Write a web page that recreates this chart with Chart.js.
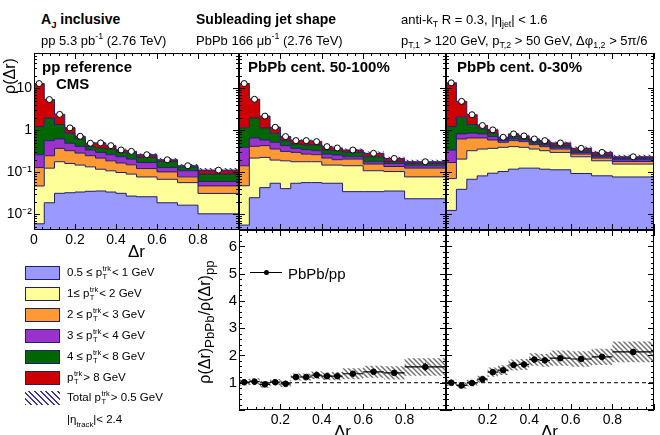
<!DOCTYPE html>
<html>
<head>
<meta charset="utf-8">
<script src="https://cdn.jsdelivr.net/npm/chart.js@4.4.1/dist/chart.umd.min.js"></script>
<style>
  body { margin: 0; background: #fff; }
  #wrap { position: relative; width: 660px; height: 435px; overflow: hidden; font-family: "Liberation Sans", Arial, sans-serif; color: #000; }
  canvas { position: absolute; }
  .t { position: absolute; white-space: nowrap; line-height: 1; transform: translateY(-50%); }
  .b { font-weight: bold; }
  .t sub, .t sup { font-size: 0.68em; line-height: 0; }
  .rot { position: absolute; white-space: nowrap; line-height: 1; transform: translate(-50%, -50%) rotate(-90deg); }
  .ss { display: inline-flex; flex-direction: column; vertical-align: middle; font-size: 7.5px; line-height: 7.5px; margin: 0 1px 0 0.5px; position: relative; top: -1px; }
  .box { position: absolute; left: 25px; width: 35px; height: 14px; border: 1px solid #1f1f6e; box-sizing: border-box; }
  .lt { position: absolute; left: 67px; font-size: 11.5px; white-space: nowrap; line-height: 1; transform: translateY(-50%); }
</style>
</head>
<body>
<div id="wrap">
  <canvas id="cTL"></canvas>
  <canvas id="cTM"></canvas>
  <canvas id="cTR"></canvas>
  <canvas id="cBM"></canvas>
  <canvas id="cBR"></canvas>

  <!-- en-tête -->
  <div class="t b" style="left:41px;top:19px;font-size:14px">A<sub>J</sub> inclusive</div>
  <div class="t" style="left:41px;top:40px;font-size:13px">pp 5.3 pb<sup>-1</sup> (2.76 TeV)</div>
  <div class="t b" style="left:196px;top:19px;font-size:14px">Subleading jet shape</div>
  <div class="t" style="left:196px;top:40px;font-size:13px">PbPb 166 μb<sup>-1</sup> (2.76 TeV)</div>
  <div class="t" style="left:401px;top:19px;font-size:13px">anti-k<sub>T</sub> R = 0.3, |η<sub>jet</sub>| &lt; 1.6</div>
  <div class="t" style="left:401px;top:40px;font-size:13px">p<sub>T,1</sub> &gt; 120 GeV, p<sub>T,2</sub> &gt; 50 GeV, Δφ<sub>1,2</sub> &gt; 5π/6</div>

  <!-- étiquettes des panneaux -->
  <div class="t b" style="left:42px;top:66px;font-size:15px">pp reference</div>
  <div class="t b" style="left:56px;top:83px;font-size:15px">CMS</div>
  <div class="t b" style="left:248px;top:66px;font-size:15px">PbPb cent. 50-100%</div>
  <div class="t b" style="left:457px;top:66px;font-size:15px">PbPb cent. 0-30%</div>

  <!-- titres d'axes -->
  <div class="rot" style="left:10px;top:76px;font-size:16px">ρ(Δr)</div>
  <div class="t" style="left:128px;top:251px;font-size:17px">Δr</div>
  <div class="t" style="left:334px;top:431px;font-size:17px">Δr</div>
  <div class="t" style="left:541px;top:431px;font-size:17px">Δr</div>
  <div class="rot" style="left:207px;top:322px;font-size:16px">ρ(Δr)<sub>PbPb</sub>/ρ(Δr)<sub>pp</sub></div>

  <!-- légende PbPb/pp -->
  <div style="position:absolute;left:250px;top:272px;width:32px;height:1px;background:#000"></div>
  <div style="position:absolute;left:263.5px;top:270px;width:5px;height:5px;border-radius:50%;background:#000"></div>
  <div class="t" style="left:288px;top:273px;font-size:15px">PbPb/pp</div>

  <!-- légende des couches -->
  <div class="box" style="top:266px;background:#9999ff"></div>
  <div class="lt" style="top:273px">0.5 ≤ p<span class="ss"><span>trk</span><span>T</span></span>&lt; 1 GeV</div>
  <div class="box" style="top:287px;background:#ffff99"></div>
  <div class="lt" style="top:294px">1≤ p<span class="ss"><span>trk</span><span>T</span></span>&lt; 2 GeV</div>
  <div class="box" style="top:308px;background:#ff9933"></div>
  <div class="lt" style="top:315px">2 ≤ p<span class="ss"><span>trk</span><span>T</span></span>&lt; 3 GeV</div>
  <div class="box" style="top:329px;background:#9933cc"></div>
  <div class="lt" style="top:336px">3 ≤ p<span class="ss"><span>trk</span><span>T</span></span>&lt; 4 GeV</div>
  <div class="box" style="top:350px;background:#006600"></div>
  <div class="lt" style="top:357px">4 ≤ p<span class="ss"><span>trk</span><span>T</span></span>&lt; 8 GeV</div>
  <div class="box" style="top:371px;background:#cc0000"></div>
  <div class="lt" style="top:378px">p<span class="ss"><span>trk</span><span>T</span></span>&gt; 8 GeV</div>
  <div class="box" style="top:391px;border:none;background:repeating-linear-gradient(45deg,#3a3a9a 0 1.3px,transparent 1.3px 4px)"></div>
  <div class="lt" style="top:398px">Total p<span class="ss"><span>trk</span><span>T</span></span>&gt; 0.5 GeV</div>
  <div class="lt" style="top:420px">|η<sub style="font-size:0.68em;line-height:0">track</sub>|&lt; 2.4</div>
</div>

<script>
// Forme du jet sous-dominant — pp, PbPb 50-100 %, PbPb 0-30 %.

const binEdges = [0, 0.05, 0.1, 0.15, 0.2, 0.25, 0.3, 0.35, 0.4, 0.45, 0.5, 0.6, 0.7, 0.8, 1.0];
const binCenters = [0.025, 0.075, 0.125, 0.175, 0.225, 0.275, 0.325, 0.375, 0.425, 0.475, 0.55, 0.65, 0.75, 0.9];

// pp reference, par tranche de pT des traces
const ppTrk05to1 = [0.0059, 0.0187, 0.0314, 0.0324, 0.0337, 0.0351, 0.0357, 0.0337, 0.0314, 0.0270, 0.0260, 0.0187, 0.0164, 0.0102];
const ppTrk1to2 = [0.041, 0.106, 0.146, 0.129, 0.114, 0.099, 0.082, 0.074, 0.067, 0.063, 0.051, 0.049, 0.040, 0.021];
const ppTrk2to3 = [0.082, 0.122, 0.192, 0.164, 0.138, 0.113, 0.099, 0.079, 0.067, 0.060, 0.045, 0.034, 0.021, 0.016];
const ppTrk3to4 = [0.132, 0.318, 0.252, 0.162, 0.126, 0.091, 0.079, 0.074, 0.068, 0.056, 0.048, 0.027, 0.031, 0.013];
const ppTrk4to8 = [0.96, 1.38, 0.75, 0.36, 0.21, 0.07, 0.081, 0.096, 0.063, 0.074, 0.055, 0.051, 0.026, 0.030];
const ppTrkAbove8 = [11.7, 3.42, 1.01, 0.29, 0.096, 0.081, 0.121, 0.072, 0.042, 0.033, 0.036, 0.018, 0.008, 0.022];

// PbPb 50-100 %
const periTrk05to1 = [0.0055, 0.0247, 0.0429, 0.0545, 0.0406, 0.0545, 0.0565, 0.0565, 0.0545, 0.0545, 0.0344, 0.0344, 0.0356, 0.0233];
const periTrk1to2 = [0.042, 0.192, 0.182, 0.140, 0.146, 0.123, 0.121, 0.121, 0.093, 0.093, 0.108, 0.074, 0.068, 0.054];
const periTrk2to3 = [0.095, 0.196, 0.204, 0.162, 0.126, 0.119, 0.093, 0.084, 0.070, 0.051, 0.063, 0.048, 0.033, 0.048];
const periTrk3to4 = [0.249, 0.242, 0.157, 0.159, 0.116, 0.074, 0.074, 0.064, 0.053, 0.058, 0.028, 0.021, 0.024, 0.017];
const periTrk4to8 = [0.75, 1.29, 0.55, 0.33, 0.136, 0.100, 0.101, 0.120, 0.067, 0.069, 0.063, 0.056, 0.019, 0.019];
const periTrkAbove8 = [11.8, 3.51, 1.03, 0.33, 0.140, 0.095, 0.120, 0.090, 0.069, 0.052, 0.041, 0.048, 0.033, 0.016];

// PbPb 0-30 %
const centTrk05to1 = [0.0123, 0.0391, 0.0679, 0.0817, 0.0946, 0.104, 0.118, 0.125, 0.125, 0.118, 0.114, 0.093, 0.082, 0.077];
const centTrk1to2 = [0.058, 0.166, 0.257, 0.274, 0.275, 0.287, 0.288, 0.266, 0.231, 0.207, 0.182, 0.140, 0.105, 0.079];
const centTrk2to3 = [0.100, 0.414, 0.330, 0.299, 0.216, 0.124, 0.159, 0.144, 0.097, 0.081, 0.060, 0.037, 0.030, 0.024];
const centTrk3to4 = [0.166, 0.198, 0.192, 0.162, 0.119, 0.050, 0.054, 0.051, 0.035, 0.039, 0.035, 0.026, 0.016, 0.018];
const centTrk4to8 = [0.89, 1.23, 0.52, 0.26, 0.142, 0.054, 0.086, 0.069, 0.057, 0.052, 0.038, 0.029, 0.023, 0.015];
const centTrkAbove8 = [12.2, 2.82, 0.97, 0.22, 0.172, 0.060, 0.112, 0.076, 0.074, 0.068, 0.068, 0.045, 0.040, 0.020];

// incertitude systématique relative sur le total (bande hachurée du haut)
const totalSysRel = [0.05, 0.05, 0.05, 0.06, 0.06, 0.07, 0.07, 0.07, 0.08, 0.08, 0.09, 0.10, 0.10, 0.12];

// rapports PbPb/pp
const ratioPeri = [1.02, 1.04, 0.94, 1.02, 0.96, 1.21, 1.21, 1.28, 1.24, 1.24, 1.33, 1.40, 1.36, 1.58];
const ratioPeriStat = [0.03, 0.04, 0.04, 0.04, 0.04, 0.04, 0.04, 0.04, 0.05, 0.05, 0.06, 0.09, 0.09, 0.15];
const ratioPeriSys = [0.12, 0.12, 0.12, 0.12, 0.12, 0.13, 0.13, 0.14, 0.14, 0.15, 0.20, 0.22, 0.24, 0.32];
const ratioCent = [1.00, 0.90, 0.99, 1.13, 1.39, 1.46, 1.65, 1.67, 1.85, 1.82, 1.90, 1.87, 1.95, 2.13];
const ratioCentStat = [0.03, 0.03, 0.03, 0.04, 0.04, 0.04, 0.04, 0.04, 0.05, 0.05, 0.05, 0.06, 0.08, 0.10];
const ratioCentSys = [0.12, 0.12, 0.12, 0.13, 0.17, 0.18, 0.20, 0.20, 0.23, 0.23, 0.28, 0.28, 0.30, 0.38];

const decadeLabels = { "-2": "10⁻²", "-1": "10⁻¹", "0": "1", "1": "10" };

const LAYER_COLORS = ["#9999ff", "#ffff99", "#ff9933", "#9933cc", "#006600", "#cc0000"];
const LINE_NAVY = "#1f1f6e";
const PAD = { l: 40, r: 6, t: 6, b: 30 };

Chart.defaults.font.family = "'Liberation Sans', Arial, sans-serif";
Chart.defaults.color = "#000";

// --- helpers ---
function hatch(color, lw) {
  const c = document.createElement("canvas");
  c.width = 5; c.height = 5;
  const g = c.getContext("2d");
  g.strokeStyle = color; g.lineWidth = lw;
  g.beginPath();
  g.moveTo(-1, -1); g.lineTo(6, 6);
  g.moveTo(-1, 4); g.lineTo(1, 6);
  g.moveTo(4, -1); g.lineTo(6, 1);
  g.stroke();
  return g.createPattern(c, "repeat");
}
const hatchNavy = hatch("#2a2a80", 1.1);
const hatchGray = hatch("#6e6e6e", 1.4);

// points aux bords de bins, pour un tracé en escalier
function stepData(vals) {
  return binEdges.map((e, i) => ({ x: e, y: vals[Math.min(i, vals.length - 1)] }));
}

function cumulate(layers) {
  const out = [];
  let run = layers[0].map(() => 0);
  layers.forEach((l) => {
    run = run.map((v, i) => v + l[i]);
    out.push(run);
  });
  return out;
}

const halfWidths = binCenters.map((c, i) => binEdges[i + 1] - c);

// cadre façon ROOT, graduations vers l'intérieur sur les 4 côtés
const rootFrame = {
  id: "rootFrame",
  afterDatasetsDraw(chart, args, opts) {
    const { ctx, chartArea: a, scales: { x, y } } = chart;
    ctx.save();
    ctx.strokeStyle = "#000";
    ctx.lineWidth = 1;
    ctx.strokeRect(a.left + 0.5, a.top + 0.5, a.right - a.left - 1, a.bottom - a.top - 1);
    ctx.beginPath();
    for (let i = 0; i <= 25; i++) {
      const px = Math.round(x.getPixelForValue(i * 0.04)) + 0.5;
      const len = i % 5 === 0 ? 6 : 3;
      ctx.moveTo(px, a.bottom); ctx.lineTo(px, a.bottom - len);
      ctx.moveTo(px, a.top); ctx.lineTo(px, a.top + len);
    }
    const yTick = (v, len) => {
      if (v < y.min || v > y.max) return;
      const py = Math.round(y.getPixelForValue(v)) + 0.5;
      ctx.moveTo(a.left, py); ctx.lineTo(a.left + len, py);
      ctx.moveTo(a.right, py); ctx.lineTo(a.right - len, py);
    };
    if (opts.log) {
      for (let d = -3; d <= 1; d++) {
        for (let m = 1; m <= 9; m++) yTick(m * Math.pow(10, d), m === 1 ? 6 : 3);
      }
    } else {
      for (let i = 0; i <= 33; i++) yTick(i * 0.2, i % 5 === 0 ? 6 : 3);
    }
    ctx.stroke();
    ctx.restore();
  },
};

// barres d'erreur (stat. verticale, largeur de bin horizontale)
const errorBars = {
  id: "errorBars",
  afterDatasetsDraw(chart) {
    const { ctx, scales: { x, y } } = chart;
    chart.data.datasets.forEach((ds) => {
      if (!ds.errX) return;
      ctx.save();
      ctx.strokeStyle = "#000";
      ctx.lineWidth = 1.2;
      ctx.beginPath();
      ds.data.forEach((p, i) => {
        const px = x.getPixelForValue(p.x);
        const py = y.getPixelForValue(p.y);
        ctx.moveTo(x.getPixelForValue(p.x - ds.errX[i]), py);
        ctx.lineTo(x.getPixelForValue(p.x + ds.errX[i]), py);
        ctx.moveTo(px, y.getPixelForValue(p.y - ds.errY[i]));
        ctx.lineTo(px, y.getPixelForValue(p.y + ds.errY[i]));
      });
      ctx.stroke();
      ctx.restore();
    });
  },
};

Chart.register(rootFrame, errorBars);

function placeCanvas(id, box) {
  const c = document.getElementById(id);
  c.width = box.r - box.l + PAD.l + PAD.r;
  c.height = box.b - box.t + PAD.t + PAD.b;
  c.style.left = (box.l - PAD.l) + "px";
  c.style.top = (box.t - PAD.t) + "px";
  return c;
}

function xScale(showLabels, hideZero) {
  return {
    type: "linear", min: 0, max: 1,
    grid: { display: false, drawTicks: false }, border: { display: false },
    ticks: {
      display: showLabels, stepSize: 0.2, autoSkip: false, maxRotation: 0, includeBounds: false,
      padding: 2, font: { size: 14 }, color: "#000",
      callback: (v) => (v > 0.99 || (hideZero && v < 0.01) ? "" : String(+v.toFixed(1))),
    },
    afterFit: (s) => { s.height = PAD.b; s.paddingLeft = 0; s.paddingRight = 0; },
  };
}

function baseOptions(xOpts, yScale, frameOpts) {
  return {
    responsive: false, animation: false, events: [],
    layout: { padding: { left: 0, top: PAD.t, right: PAD.r, bottom: 0 } },
    plugins: { legend: { display: false }, tooltip: { enabled: false }, rootFrame: frameOpts },
    scales: { x: xOpts, y: yScale },
  };
}

function topPanel(id, box, layers, showY, showX) {
  const canvas = placeCanvas(id, box);
  const stacks = cumulate(layers);
  const total = stacks[stacks.length - 1];

  const datasets = stacks.map((s, k) => ({
    data: stepData(s), stepped: true, fill: k === 0 ? "start" : "-1",
    backgroundColor: LAYER_COLORS[k], borderColor: LINE_NAVY, borderWidth: 1,
    pointRadius: 0, order: 3,
  }));
  datasets.push({
    data: stepData(total.map((v, i) => v * (1 - totalSysRel[i]))), stepped: true, fill: false,
    borderColor: "transparent", borderWidth: 0, pointRadius: 0, order: 2,
  });
  datasets.push({
    data: stepData(total.map((v, i) => v * (1 + totalSysRel[i]))), stepped: true, fill: "-1",
    backgroundColor: hatchNavy, borderColor: "transparent", borderWidth: 0, pointRadius: 0, order: 2,
  });
  datasets.push({
    data: binCenters.map((c, i) => ({ x: c, y: total[i] })), showLine: false,
    pointRadius: 3, pointBackgroundColor: "#fff", pointBorderColor: "#000", pointBorderWidth: 1, order: 0,
  });

  const yScale = {
    type: "logarithmic", min: 0.0042, max: 69,
    grid: { display: false, drawTicks: false }, border: { display: false },
    ticks: {
      display: showY, autoSkip: false, includeBounds: false, padding: 2, font: { size: 14 }, color: "#000",
      callback: (v) => {
        const l = Math.log10(v);
        return Math.abs(l - Math.round(l)) < 1e-6 ? (decadeLabels[String(Math.round(l))] || "") : "";
      },
    },
    afterFit: (s) => { s.width = PAD.l; s.paddingTop = 0; s.paddingBottom = 0; },
  };

  return new Chart(canvas, {
    type: "line", data: { datasets },
    options: baseOptions(xScale(showX, false), yScale, { log: true }),
  });
}

function ratioPanel(id, box, ratio, stat, sys, showY) {
  const canvas = placeCanvas(id, box);
  const datasets = [
    {
      data: stepData(ratio.map((r, i) => r - sys[i])), stepped: true, fill: false,
      borderColor: "transparent", borderWidth: 0, pointRadius: 0, order: 2,
    },
    {
      data: stepData(ratio.map((r, i) => r + sys[i])), stepped: true, fill: "-1",
      backgroundColor: hatchGray, borderColor: "transparent", borderWidth: 0, pointRadius: 0, order: 2,
    },
    {
      data: [{ x: 0, y: 1 }, { x: 1, y: 1 }], borderColor: "#000", borderWidth: 1,
      borderDash: [4, 3], pointRadius: 0, fill: false, order: 1,
    },
    {
      data: binCenters.map((c, i) => ({ x: c, y: ratio[i] })), showLine: false,
      pointRadius: 2.8, pointBackgroundColor: "#000", pointBorderColor: "#000", order: 0,
      errX: halfWidths, errY: stat,
    },
  ];
  const yScale = {
    type: "linear", min: 0, max: 6.6,
    grid: { display: false, drawTicks: false }, border: { display: false },
    ticks: {
      display: showY, stepSize: 1, autoSkip: false, includeBounds: false, padding: 2,
      font: { size: 15 }, color: "#000",
      callback: (v) => (v === 0 ? "" : String(v)),
    },
    afterFit: (s) => { s.width = PAD.l; s.paddingTop = 0; s.paddingBottom = 0; },
  };
  return new Chart(canvas, {
    type: "line", data: { datasets },
    options: baseOptions(xScale(true, true), yScale, { log: false }),
  });
}

// --- panneaux ---
topPanel("cTL", { l: 34, t: 53, r: 239, b: 230 },
  [ppTrk05to1, ppTrk1to2, ppTrk2to3, ppTrk3to4, ppTrk4to8, ppTrkAbove8], true, true);
topPanel("cTM", { l: 239, t: 53, r: 446, b: 230 },
  [periTrk05to1, periTrk1to2, periTrk2to3, periTrk3to4, periTrk4to8, periTrkAbove8], false, false);
topPanel("cTR", { l: 446, t: 53, r: 654, b: 230 },
  [centTrk05to1, centTrk1to2, centTrk2to3, centTrk3to4, centTrk4to8, centTrkAbove8], false, false);
ratioPanel("cBM", { l: 239, t: 230, r: 446, b: 410 }, ratioPeri, ratioPeriStat, ratioPeriSys, true);
ratioPanel("cBR", { l: 446, t: 230, r: 654, b: 410 }, ratioCent, ratioCentStat, ratioCentSys, false);
</script>
</body>
</html>
